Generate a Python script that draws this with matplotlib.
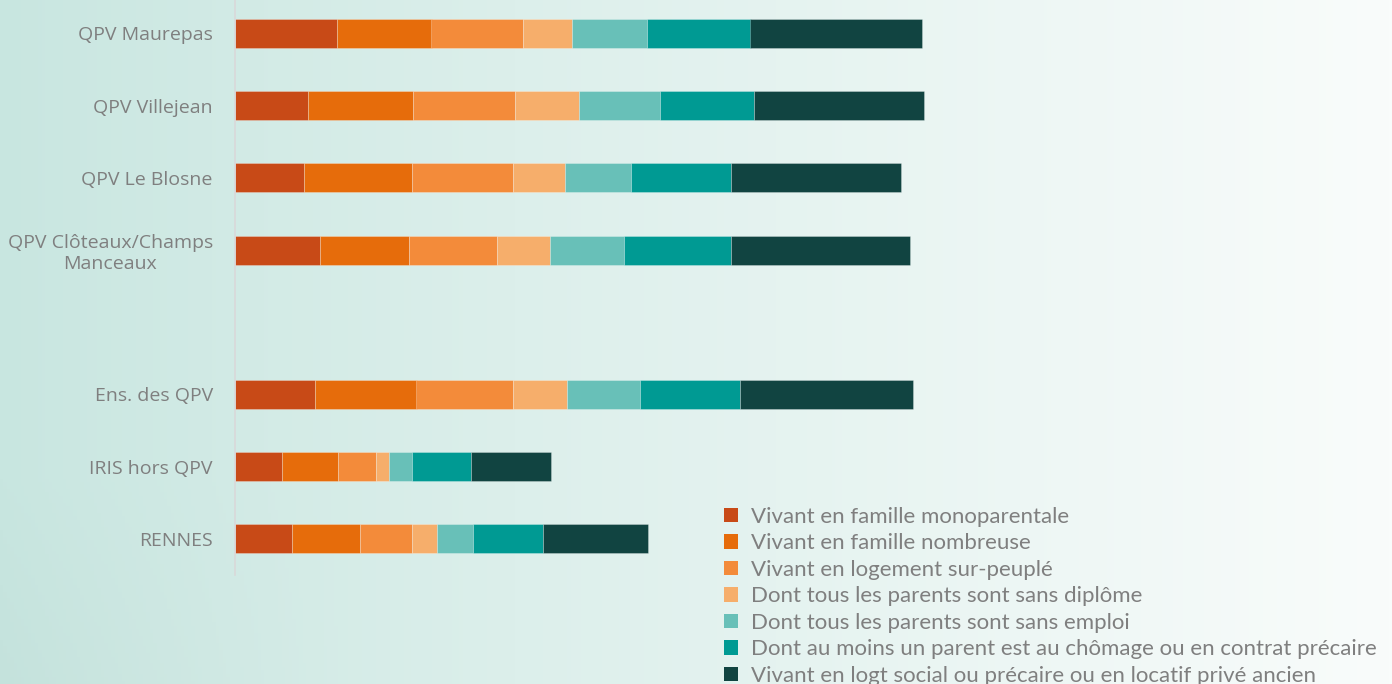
import numpy as np
import matplotlib
matplotlib.use("Agg")
import matplotlib.pyplot as plt
from matplotlib.colors import to_rgb
from matplotlib.patches import Patch

categories = ["QPV Maurepas", "QPV Villejean", "QPV Le Blosne",
              "QPV Clôteaux/Champs\nManceaux",
              "Ens. des QPV", "IRIS hors QPV", "RENNES"]
gap_after = 3  # empty slot after the 4th category

series_names = [
    "Vivant en famille monoparentale",
    "Vivant en famille nombreuse",
    "Vivant en logement sur-peuplé",
    "Dont tous les parents sont sans diplôme",
    "Dont tous les parents sont sans emploi",
    "Dont au moins un parent est au chômage ou en contrat précaire",
    "Vivant en logt social ou précaire ou en locatif privé ancien",
]

monoparentale = [40.8, 29.0, 27.7, 33.8, 31.8, 18.9, 22.6]
nombreuse     = [37.8, 42.2, 43.2, 35.6, 40.8, 22.4, 27.2]
surpeuple     = [36.4, 40.8, 40.4, 35.5, 38.4, 15.2, 21.1]
sans_diplome  = [19.8, 25.7, 20.8, 21.1, 21.8, 5.0, 9.8]
sans_emploi   = [30.1, 32.2, 26.4, 29.6, 29.2, 9.2, 14.5]
chomage       = [41.3, 37.8, 39.9, 42.8, 39.8, 23.7, 27.9]
logt_social   = [68.7, 68.1, 68.1, 71.6, 69.2, 32.1, 41.9]

series = [monoparentale, nombreuse, surpeuple, sans_diplome,
          sans_emploi, chomage, logt_social]
colors = ["#C84A17", "#E66C0B", "#F38B3A", "#F6AE6B",
          "#68C0B8", "#009A93", "#114441"]

W, H = 1392, 684
fig = plt.figure(figsize=(W / 100, H / 100), dpi=100)

# background gradient
bg = fig.add_axes([0, 0, 1, 1], zorder=-10)
left_c = np.array(to_rgb("#c8e6e0"))
right_c = np.array(to_rgb("#f9fcfb"))
xs = np.linspace(0, 1, 400)[None, :]
ys = np.linspace(0, 1, 200)[:, None]
t = np.clip(xs ** 0.9, 0, 1)
img = left_c[None, None, :] * (1 - t[..., None]) + right_c[None, None, :] * t[..., None]
bottom_dark = np.clip((ys - 0.7) / 0.3, 0, 1) * np.clip(1 - xs / 0.25, 0, 1)
img = img - 0.015 * bottom_dark[..., None]
img = np.broadcast_to(img, (200, 400, 3))
bg.imshow(np.clip(img, 0, 1), aspect="auto", extent=[0, 1, 0, 1], origin="upper")
bg.axis("off")

x0 = 235 / W
top_px, bot_px = -2.6, 575
ax = fig.add_axes([x0, 1 - bot_px / H, 1 - x0, (bot_px - top_px) / H])
ax.patch.set_alpha(0)

n = len(categories)
slots = [i if i <= gap_after else i + 1 for i in range(n)]
left = np.zeros(n)
for vals, col, name in zip(series, colors, series_names):
    ax.barh(slots, vals, left=left, height=0.40, color=col,
            edgecolor=(1, 1, 1, 0.3), linewidth=0.6, label=name)
    left += np.array(vals)

ax.set_xlim(0, (W - 235) / 2.5)
ax.set_ylim(n + 0.5, -0.5)
ax.set_yticks(slots)
ax.set_yticklabels(categories, fontsize=14, color="#7f7f7f",
                   family="Open Sans", multialignment="center")
ax.tick_params(axis="y", length=0, pad=16)
ax.set_xticks([])
for s in ["top", "right", "bottom"]:
    ax.spines[s].set_visible(False)
ax.spines["left"].set_color("#d9d9d9")
ax.spines["left"].set_linewidth(1.2)

handles = [Patch(facecolor=c, edgecolor="none") for c in colors]
leg = fig.legend(handles, series_names, loc="upper left",
                 bbox_to_anchor=(724 / W, 1 - 507 / H),
                 frameon=False, prop={"family": "Lato", "size": 16},
                 labelcolor="#7f7f7f", handlelength=0.63, handleheight=0.63,
                 handletextpad=0.59, labelspacing=0.29, borderpad=0,
                 borderaxespad=0)

fig.savefig("out.png", dpi=100)
